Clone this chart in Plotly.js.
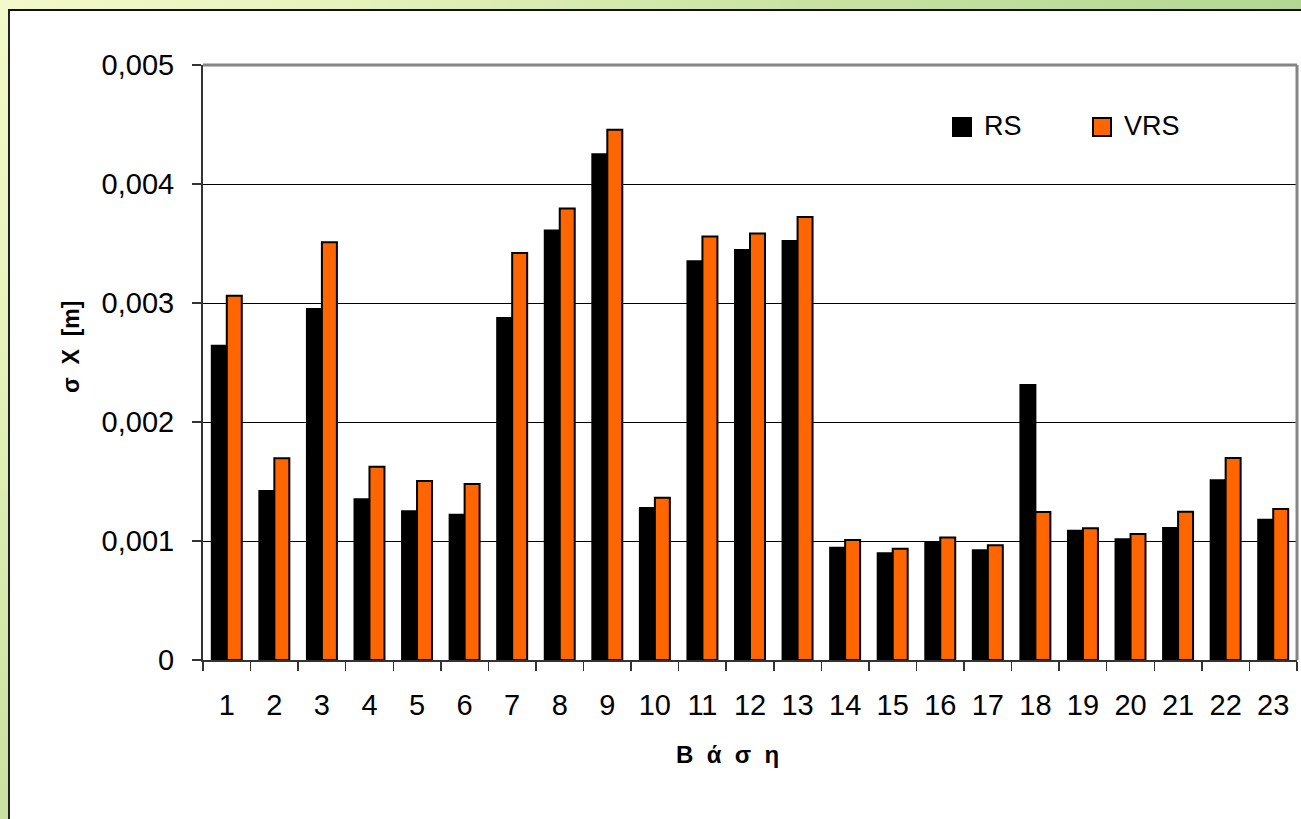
<!DOCTYPE html>
<html>
<head>
<meta charset="utf-8">
<script src="https://cdn.plot.ly/plotly-3.0.1.min.js"></script>
<style>
html, body { margin: 0; padding: 0; width: 1301px; height: 819px; overflow: hidden; }
body { background: radial-gradient(circle at 0 0, #f3f9c9 0px, #e9f4bd 300px, #c9e2a3 800px, #b3d793 1300px); position: relative; }
#frame { position: absolute; left: 8px; top: 9px; width: 1300px; height: 820px; background: #ffffff; border-left: 2px solid #222; border-top: 2px solid #111; }
#chart { position: absolute; left: 0; top: 0; width: 1301px; height: 819px; }
</style>
</head>
<body>
<div id="frame"></div>
<div id="chart"></div>
<script>
var categories = ['1','2','3','4','5','6','7','8','9','10','11','12','13','14','15','16','17','18','19','20','21','22','23'];
var rsValues = [0.00264, 0.00142, 0.00295, 0.00135, 0.00125, 0.00122, 0.002875, 0.00361, 0.00425, 0.001277, 0.00335, 0.003445, 0.00352, 0.000944, 0.000897, 0.000991, 0.000922, 0.002311, 0.001087, 0.001014, 0.00111, 0.00151, 0.001179];
var vrsValues = [0.00306, 0.001695, 0.00351, 0.001625, 0.001505, 0.00148, 0.00342, 0.003794, 0.004455, 0.001363, 0.003558, 0.003583, 0.003723, 0.001009, 0.000935, 0.00103, 0.000964, 0.001244, 0.001107, 0.001059, 0.001245, 0.001697, 0.001269];
var yTickVals = [0, 0.001, 0.002, 0.003, 0.004, 0.005];
var yTickText = ['0', '0,001', '0,002', '0,003', '0,004', '0,005'];
var seriesNames = ['RS', 'VRS'];
var seriesColors = ['#000000', '#FF6600'];
var xTitle = 'Β\u00A0\u00A0ά\u00A0\u00A0σ\u00A0\u00A0η';
var yTitle = 'σ\u00A0\u00A0X\u00A0\u00A0[m]';

var FONT = 'Arial, "Liberation Sans", sans-serif';
var L = 203, R = 1297, T = 65, B = 660;
function px(x) { return (x - L) / (R - L); }
function py(y) { return (B - y) / (B - T); }

var traces = seriesNames.map(function (name, i) {
  return { type: 'bar', name: name, x: categories, y: i === 0 ? rsValues : vrsValues,
    marker: { color: seriesColors[i], line: { color: '#000000', width: 2 } } };
});

// legend (drawn as shapes + text)
var legendSquareX = [953, 1093];
var legendShapes = seriesNames.map(function (name, i) {
  return { type: 'rect', xref: 'paper', yref: 'paper',
    x0: px(legendSquareX[i]), x1: px(legendSquareX[i] + 18), y0: py(136), y1: py(118),
    fillcolor: seriesColors[i], line: { color: '#000000', width: 2 }, layer: 'above' };
});
var legendTexts = seriesNames.map(function (name, i) {
  return { text: name, xref: 'paper', yref: 'paper', x: px(legendSquareX[i] + 29), y: py(126),
    xanchor: 'left', yanchor: 'middle', showarrow: false,
    font: { family: FONT, size: 27, color: '#000' } };
});

var layout = {
  width: 1301, height: 819,
  margin: { l: L, r: 1301 - R, t: T, b: 819 - B, pad: 0, autoexpand: false },
  paper_bgcolor: 'rgba(0,0,0,0)',
  plot_bgcolor: '#ffffff',
  barmode: 'group', bargap: 0.37, bargroupgap: 0,
  font: { family: FONT, color: '#000000', size: 29 },
  showlegend: false,
  xaxis: {
    type: 'category', tickson: 'boundaries', ticks: 'outside', ticklen: 9, tickwidth: 1.5,
    tickcolor: '#333', showline: true, linecolor: '#333', linewidth: 2,
    showgrid: false, tickfont: { family: FONT, size: 29, color: '#000' },
    ticklabelstandoff: 18, fixedrange: true, automargin: false
  },
  yaxis: {
    range: [0, 0.005], tickvals: yTickVals, ticktext: yTickText,
    ticks: 'outside', ticklen: 9, tickwidth: 1.5, tickcolor: '#333',
    showline: true, linecolor: '#333', linewidth: 2,
    showgrid: true, gridcolor: '#000000', gridwidth: 1, zeroline: false,
    tickfont: { family: FONT, size: 29, color: '#000' },
    ticklabelstandoff: 12, fixedrange: true, automargin: false
  },
  shapes: [
    { type: 'line', xref: 'paper', yref: 'paper', x0: 0, x1: 1, y0: 1, y1: 1, line: { color: '#858585', width: 3 }, layer: 'above' },
    { type: 'line', xref: 'paper', yref: 'paper', x0: 1, x1: 1, y0: 0, y1: 1, line: { color: '#858585', width: 3 }, layer: 'above' }
  ].concat(legendShapes),
  annotations: [
    { text: xTitle, xref: 'paper', yref: 'paper', x: px(727), y: py(755),
      xanchor: 'center', yanchor: 'middle', showarrow: false,
      font: { family: FONT, size: 24, color: '#000', weight: 'bold' } },
    { text: yTitle, xref: 'paper', yref: 'paper', x: px(71), y: py(347),
      xanchor: 'center', yanchor: 'middle', showarrow: false, textangle: -90,
      font: { family: FONT, size: 23, color: '#000', weight: 'bold' } }
  ].concat(legendTexts)
};

Plotly.newPlot('chart', traces, layout, { displayModeBar: false, staticPlot: true });
</script>
</body>
</html>
